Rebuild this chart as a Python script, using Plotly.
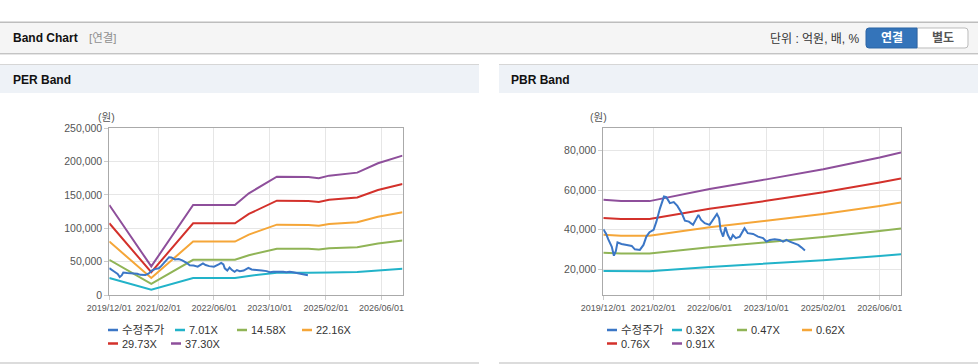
import plotly.graph_objects as go

W, H = 978, 364

# ---------------- data ----------------
price_name = "수정주가"
price_dates = ["2019-12-01", "2019-12-25", "2020-01-12", "2020-02-12", "2020-03-01", "2020-03-18",
               "2020-04-01", "2020-05-05", "2020-06-20", "2020-08-01", "2020-08-28", "2020-10-10",
               "2020-11-10", "2020-12-05", "2021-01-01", "2021-02-05", "2021-03-01", "2021-04-01",
               "2021-05-05", "2021-05-25", "2021-06-25", "2021-07-28", "2021-08-28", "2021-10-05",
               "2021-11-01", "2021-12-05", "2022-01-10", "2022-02-25", "2022-03-20", "2022-04-20",
               "2022-06-01", "2022-07-12", "2022-08-03", "2022-08-22", "2022-09-03", "2022-09-25",
               "2022-10-15", "2022-11-05", "2022-11-28", "2022-12-18", "2023-01-12", "2023-02-15",
               "2023-03-28", "2023-04-25", "2023-06-10", "2023-07-22", "2023-09-03", "2023-10-01",
               "2023-11-01", "2023-12-12", "2024-01-25", "2024-02-22", "2024-03-22", "2024-04-20",
               "2024-06-01", "2024-07-01", "2024-07-28", "2024-08-28"]
price_values = [40300, 38000, 35300, 31500, 27000, 29400, 33700, 32900, 32400, 31900, 30200, 29900,
                32400, 36600, 38800, 40000, 44100, 50800, 56700, 56400, 53400, 53900, 52000, 48300,
                44600, 44100, 42500, 47500, 45000, 43300, 42500, 45800, 48000, 45800, 40000, 36600,
                41300, 37400, 34900, 37400, 35800, 36600, 40800, 38300, 37900, 36600, 35800, 34100,
                34900, 35300, 34900, 34100, 34900, 34100, 32900, 32400, 31200, 29600]

# PER band: EPS, multiples from the legend
per_eps_dates = ["2019-12-01", "2020-12-01", "2021-12-01", "2022-12-01", "2023-04-01", "2023-08-01",
                 "2023-10-01", "2023-12-01", "2024-09-01", "2024-12-01", "2025-03-01", "2025-11-01",
                 "2026-05-01", "2026-12-01"]
per_eps = [3619, 1150, 3619, 3619, 4088, 4424, 4625, 4759, 4745, 4692, 4799, 4920, 5295, 5603]
per_multiples = [7.01, 14.58, 22.16, 29.73, 37.30]
per_labels = ["7.01X", "14.58X", "22.16X", "29.73X", "37.30X"]

# PBR band: BPS, multiples from the legend
pbr_bps_dates = ["2019-12-01", "2020-05-01", "2021-01-01", "2022-06-01", "2023-10-01", "2025-02-01",
                 "2026-06-01", "2026-12-01"]
pbr_bps = [60500, 59800, 59800, 66500, 71800, 77400, 83850, 86600]
pbr_multiples = [0.32, 0.47, 0.62, 0.76, 0.91]
pbr_labels = ["0.32X", "0.47X", "0.62X", "0.76X", "0.91X"]

x_tick_dates = ["2019-12-01", "2021-02-01", "2022-06-01", "2023-10-01", "2025-02-01", "2026-06-01"]
x_tick_labels = ["2019/12/01", "2021/02/01", "2022/06/01", "2023/10/01", "2025/02/01", "2026/06/01"]
x_range = ["2019-12-01", "2026-12-01"]
per_y_ticks = [0, 50000, 100000, 150000, 200000, 250000]
per_y_range = [0, 250000]
pbr_y_ticks = [20000, 40000, 60000, 80000]
pbr_y_range = [7250, 91000]

# ---------------- style ----------------
price_color = "#3b76c6"
band_colors = ["#22b3c9", "#90b456", "#f5a638", "#d3312b", "#8e4f9b"]
FONT = "Liberation Sans, Arial, Noto Sans CJK KR, sans-serif"


def PX(x):
    return x / W


def PY(y):
    return 1 - y / H


fig = go.Figure()

for (xa, ya, dates, base, mults) in [("x", "y", per_eps_dates, per_eps, per_multiples),
                                     ("x2", "y2", pbr_bps_dates, pbr_bps, pbr_multiples)]:
    for m, c in zip(mults, band_colors):
        fig.add_trace(go.Scatter(x=dates, y=[b * m for b in base], mode="lines",
                                 line=dict(color=c, width=2), xaxis=xa, yaxis=ya,
                                 showlegend=False, hoverinfo="x+y"))
    fig.add_trace(go.Scatter(x=price_dates, y=price_values, mode="lines", name=price_name,
                             line=dict(color=price_color, width=2), xaxis=xa, yaxis=ya,
                             showlegend=False))

ydom = [PY(295), PY(128.3)]
common_x = dict(type="date", range=x_range, tickvals=x_tick_dates, ticktext=x_tick_labels,
                showgrid=True, gridcolor="#e6e6e6", gridwidth=1, showline=True, linecolor="#aaaaaa",
                linewidth=1, mirror=True, ticks="outside", ticklen=4, tickcolor="#cccccc",
                tickfont=dict(family=FONT, size=9, color="#555555"), zeroline=False,
                fixedrange=True, automargin=False)
common_y = dict(showgrid=True, gridcolor="#e6e6e6", gridwidth=1, showline=True, linecolor="#aaaaaa",
                linewidth=1, mirror=True, ticks="outside", ticklen=4, tickcolor="#cccccc",
                tickfont=dict(family=FONT, size=10.5, color="#555555"), zeroline=False,
                tickformat=",", fixedrange=True, domain=ydom, automargin=False)

fig.update_layout(
    width=W, height=H, margin=dict(l=0, r=0, t=0, b=0, autoexpand=False),
    paper_bgcolor="white", plot_bgcolor="white", showlegend=False,
    xaxis=dict(common_x, domain=[PX(109.3), PX(402.5)], anchor="y"),
    yaxis=dict(common_y, range=per_y_range, tickvals=per_y_ticks, anchor="x"),
    xaxis2=dict(common_x, domain=[PX(603.3), PX(901)], anchor="y2"),
    yaxis2=dict(common_y, range=pbr_y_range, tickvals=pbr_y_ticks, anchor="x2"),
)


def rect(x0, y0, x1, y1, fill, line=None, lw=0):
    return dict(type="rect", xref="paper", yref="paper", x0=PX(x0), x1=PX(x1), y0=PY(y1), y1=PY(y0),
                fillcolor=fill, line=dict(color=line or fill, width=lw), layer="below")


def hline(x0, x1, y, color, w=1):
    return dict(type="line", xref="paper", yref="paper", x0=PX(x0), x1=PX(x1), y0=PY(y), y1=PY(y),
                line=dict(color=color, width=w), layer="above")


def rounded(x0, y0, x1, y1, r, left=True, right=True):
    def P(x, y):
        return f"{PX(x):.6f},{PY(y):.6f}"
    rl = r if left else 0
    rr = r if right else 0
    path = f"M{P(x0 + rl, y0)} L{P(x1 - rr, y0)} "
    path += f"Q{P(x1, y0)} {P(x1, y0 + rr)} " if rr else ""
    path += f"L{P(x1, y1 - rr)} "
    path += f"Q{P(x1, y1)} {P(x1 - rr, y1)} " if rr else ""
    path += f"L{P(x0 + rl, y1)} "
    path += f"Q{P(x0, y1)} {P(x0, y1 - rl)} " if rl else ""
    path += f"L{P(x0, y0 + rl)} "
    path += f"Q{P(x0, y0)} {P(x0 + rl, y0)} " if rl else ""
    return path + "Z"


shapes = [
    rect(0, 21.5, 978, 23, "#bdbdbd"),
    rect(0, 23, 978, 53, "#f5f5f5"),
    hline(0, 978, 53.5, "#c4c4c4", 1),
    hline(0, 978, 54.5, "#e6e6e6", 1),
    rect(0, 64, 479, 93, "#eef2f7"),
    hline(0, 479, 64.5, "#d6d6d6", 1),
    rect(499, 64, 978, 93, "#eef2f7"),
    hline(499, 978, 64.5, "#d6d6d6", 1),
    hline(0, 479, 363, "#d0d0d0", 1.5),
    hline(499, 978, 363, "#d0d0d0", 1.5),
    dict(type="path", xref="paper", yref="paper", path=rounded(917, 28, 968, 48, 3, left=False),
         fillcolor="white", line=dict(color="#bbbbbb", width=1)),
    dict(type="path", xref="paper", yref="paper", path=rounded(866, 28, 917, 48, 3, right=False),
         fillcolor="#3474ba", line=dict(color="#2c65a5", width=1)),
]

annotations = []


def text(x, y, s, size=12, color="#111111", bold=False, anchor="left"):
    annotations.append(dict(xref="paper", yref="paper", x=PX(x), y=PY(y), text=(f"<b>{s}</b>" if bold else s),
                            showarrow=False, xanchor=anchor, yanchor="middle",
                            font=dict(family=FONT, size=size, color=color)))


text(11, 38, "Band Chart", 12, "#111111", True)
text(87, 38.5, "[연결]", 11.5, "#8f8f8f")
text(862, 39, "단위 : 억원, 배, %", 12, "#333333", anchor="right")
text(891.5, 38, "연결", 12, "#ffffff", True, "center")
text(942.5, 38, "별도", 12, "#555555", True, "center")
text(11, 80, "PER Band", 12, "#111111", True)
text(509, 80, "PBR Band", 12, "#111111", True)
text(106, 117.5, "(원)", 10.5, "#555555", anchor="center")
text(598, 117.5, "(원)", 10.5, "#555555", anchor="center")

# legends (drawn manually to match the short legend swatches)
legend_cols = [price_color] + band_colors
left_pos = [(108, 330), (175, 330), (237, 330), (302, 330), (108, 343.5), (171, 343.5)]
right_pos = [(607, 330), (672, 330), (737, 330), (802, 330), (607, 343.5), (672, 343.5)]
for names, pos in [([price_name] + per_labels, left_pos), ([price_name] + pbr_labels, right_pos)]:
    for nm, col, (lx, ly) in zip(names, legend_cols, pos):
        shapes.append(hline(lx, lx + 10, ly, col, 2.5))
        text(lx + 12, ly, nm, 11.5 if nm == price_name else 11, "#333333")

fig.update_layout(shapes=shapes, annotations=annotations)
fig.write_html("out.html", config={"displayModeBar": False},
               post_script="document.body.style.margin='0';document.body.style.overflow='hidden';")
